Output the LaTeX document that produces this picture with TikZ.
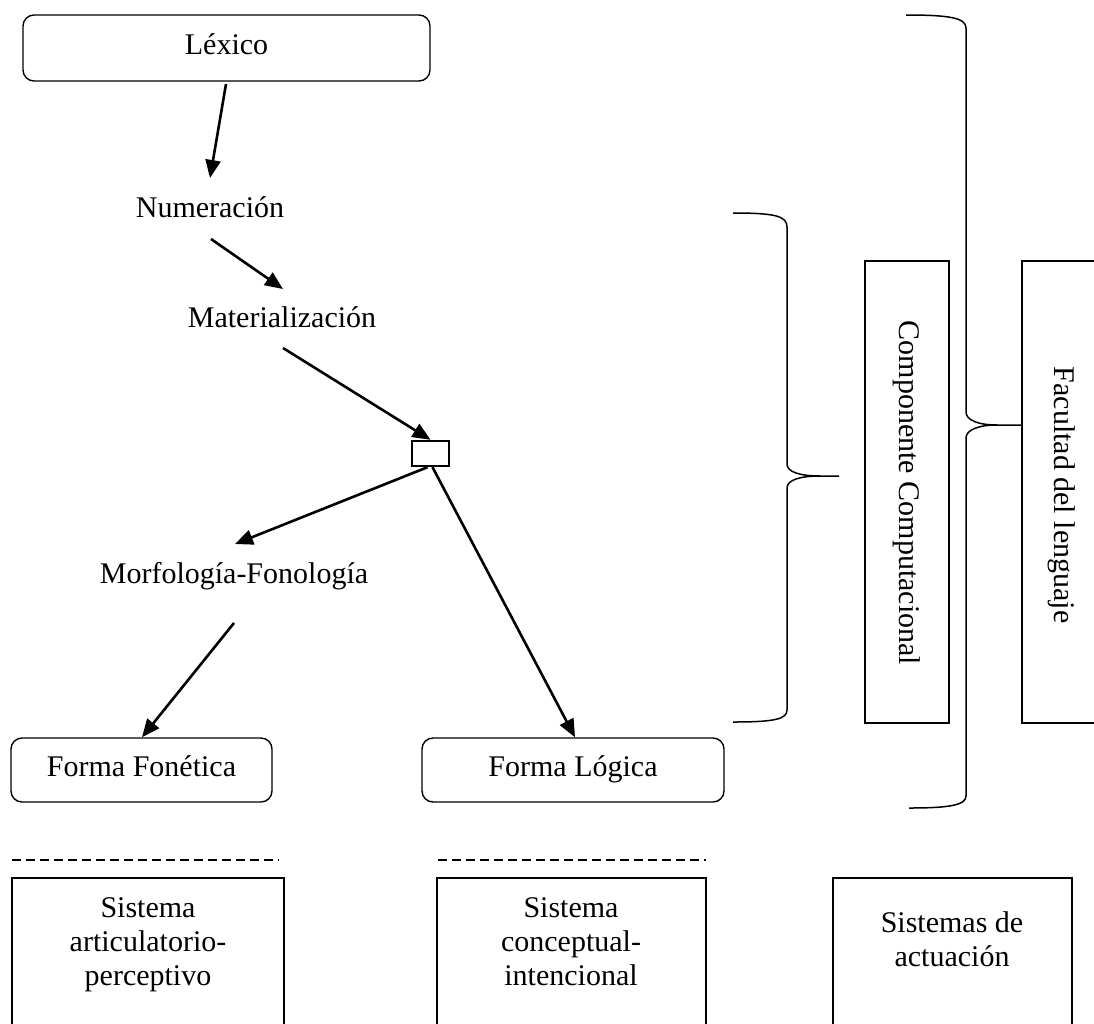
\documentclass[tikz,border=0pt]{standalone}
\usepackage{fontspec}
\setmainfont{Liberation Serif}
\usetikzlibrary{arrows.meta}
\begin{document}
\begin{tikzpicture}[x=1pt,y=-1pt,
  every node/.style={font=\fontsize{30}{34}\selectfont, inner sep=0pt},
  rbox/.style={draw, line width=1.4pt, rounded corners=11pt, text height=20pt, text depth=7pt},
  plainbox/.style={draw, line width=1.4pt},
  label/.style={anchor=base},
  arr/.style={line width=2.6pt, -{Triangle[length=18pt,width=15pt]}},
  brace/.style={line width=1.5pt},
  dashline/.style={line width=2pt, dash pattern=on 9pt off 5pt}]
\useasboundingbox (0,0) rectangle (1094,1023);
\clip (0,0) rectangle (1094,1023);

% lexicon box and the derivation steps
\node[rbox, minimum width=407pt, minimum height=66pt] (lex) at (226.5,48) {Léxico};
\node[label] (num) at (210,217) {Numeración};
\node[label] (mat) at (282,327) {Materialización};
\node[plainbox, line width=2.4pt, minimum width=37pt, minimum height=25pt] (sq) at (430.5,453.5) {};
\node[label] (mf) at (234,583) {Morfología-Fonología};
\node[rbox, minimum width=261pt, minimum height=64pt] (ff) at (141.5,770) {Forma Fonética};
\node[rbox, minimum width=302pt, minimum height=64pt] (fl) at (573,770) {Forma Lógica};

% free ends of the connectors
\coordinate (lexout) at (226,84);
\coordinate (numin) at (210,178);
\coordinate (numout) at (211,239);
\coordinate (matin) at (283,289);
\coordinate (matout) at (283,348);
\coordinate (mfin) at (235,544);
\coordinate (mfout) at (234,623);

\draw[arr] (lexout) -- (numin);
\draw[arr] (numout) -- (matin);
\draw[arr] (matout) -- (sq.north);
\draw[arr] ([xshift=-3pt]sq.south) -- (mfin);
\draw[arr] ([xshift=2pt]sq.south) -- ([xshift=2pt]fl.north);
\draw[arr] (mfout) -- ([xshift=0.5pt]ff.north);

% interface lines
\coordinate (d1a) at (12,860);  \coordinate (d1b) at (279,860);
\coordinate (d2a) at (438,860); \coordinate (d2b) at (706,860);
\draw[dashline] (d1a) -- (d1b);
\draw[dashline] (d2a) -- (d2b);

% performance systems (boxes open at the bottom)
\draw[line width=1.4pt] (12,1030) -- (12,878) -- (284,878) -- (284,1030);
\draw[line width=1.4pt] (437,1030) -- (437,878) -- (706,878) -- (706,1030);
\draw[line width=1.4pt] (833,1030) -- (833,878) -- (1072,878) -- (1072,1030);
\node[align=center, anchor=base] (sap) at (148,985) {Sistema\\articulatorio-\\perceptivo};
\node[align=center, anchor=base] (sci) at (571,985) {Sistema\\conceptual-\\intencional};
\node[align=center, anchor=base] (sa) at (952,966) {Sistemas de\\actuación};

% computational component brace and label
\draw[brace] (733,213) .. controls (775,213) and (787,216) .. (787,227) -- (787,464)
  .. controls (787,472) and (800,476) .. (820,476) -- (839,476);
\draw[brace] (820,476) .. controls (800,476) and (787,480) .. (787,488) -- (787,710)
  .. controls (787,719) and (775,722) .. (733,722);
\node[plainbox, minimum width=84pt, minimum height=462pt] (cc) at (907,492) {};
\node[rotate=-90] (cct) at (907,493) {Componente Computacional};

% language faculty brace and label
\draw[brace] (906,15) .. controls (950,15) and (966,18) .. (966,28) -- (966,412)
  .. controls (966,420) and (978,425) .. (997,425) -- (1022,425);
\draw[brace] (997,425) .. controls (978,425) and (966,430) .. (966,438) -- (966,796)
  .. controls (966,805) and (950,808) .. (909,808);
\draw[line width=1.4pt] (1100,261) -- (1022,261) -- (1022,723) -- (1100,723);
\node[rotate=-90] (fdl) at (1062,495) {Facultad del lenguaje};
\end{tikzpicture}
\end{document}
